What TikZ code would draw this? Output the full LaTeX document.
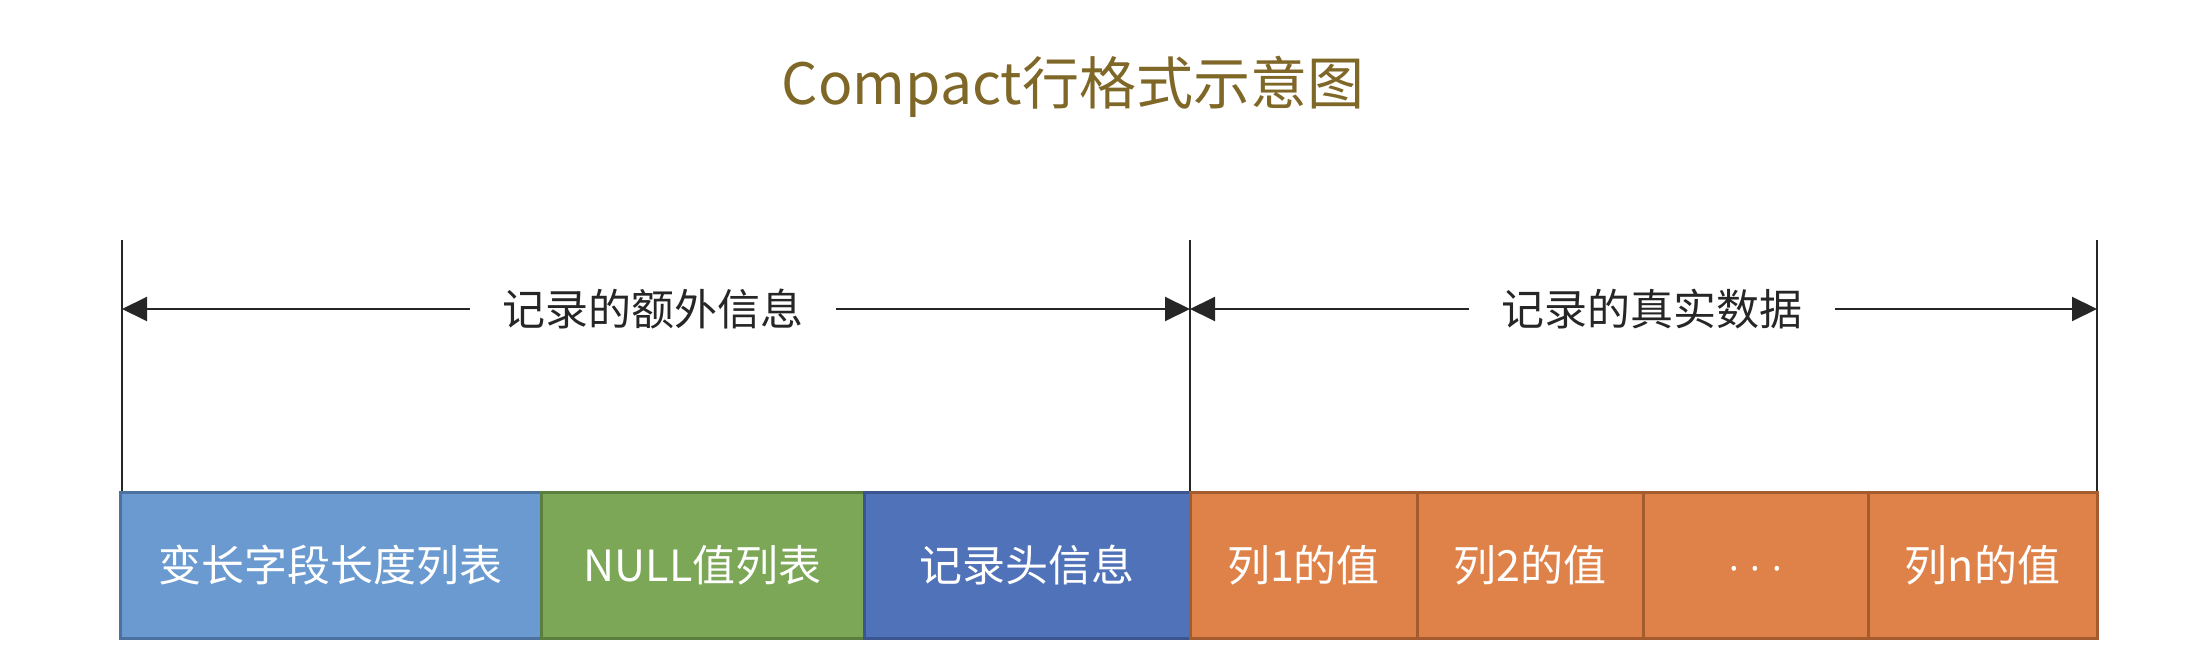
\documentclass[tikz,border=0pt]{standalone}
\usepackage{fontspec}
\setmainfont{Noto Sans CJK SC}
\newfontfamily\latinfont{Noto Sans}
\usetikzlibrary{arrows.meta}
\definecolor{titlec}{HTML}{7F6727}
\definecolor{bluef}{HTML}{6A9ACF}
\definecolor{blued}{HTML}{4B71A0}
\definecolor{greenf}{HTML}{7BA757}
\definecolor{greend}{HTML}{5A7E3D}
\definecolor{dbluef}{HTML}{5072B8}
\definecolor{dblued}{HTML}{3A5590}
\definecolor{orangef}{HTML}{DE8249}
\definecolor{oranged}{HTML}{A45C2E}
\definecolor{linec}{HTML}{262626}
\begin{document}
\begin{tikzpicture}[x=0.5pt,y=-0.5pt,
  cell/.style={draw, line width=1.5pt, minimum height=73pt, inner sep=0pt,
    text=white, font=\fontsize{21.5}{26}\selectfont},
  bluecell/.style={cell, fill=bluef, draw=blued},
  greencell/.style={cell, fill=greenf, draw=greend},
  dbluecell/.style={cell, fill=dbluef, draw=dblued},
  orangecell/.style={cell, fill=orangef, draw=oranged},
  hdr/.style={inner xsep=16pt, inner ysep=0pt, text=linec, font=\fontsize{21.5}{26}\selectfont},
  vline/.style={draw=linec, line width=1pt},
  arr/.style={draw=linec, line width=1pt, -{Triangle[length=12.5pt,width=12pt]}}]
\useasboundingbox (0,0) rectangle (2212,652);

\node[text=titlec, font=\fontsize{28.5}{34}\selectfont] (title) at (1073,87) {Compact行格式示意图};

\node[bluecell, minimum width=210.5pt] (c1) at (330.5,565) {变长字段长度列表};
\node[greencell, minimum width=161.5pt] (c2) at (702.5,565) {NULL值列表};
\node[dbluecell, minimum width=163pt] (c3) at (1027,565) {记录头信息};
\node[orangecell, minimum width=113.5pt] (c4) at (1303.5,565) {列1的值};
\node[orangecell, minimum width=113pt] (c5) at (1530,565) {列2的值};
\node[orangecell, minimum width=112.5pt, font=\latinfont\fontsize{18}{22}\selectfont] (c6) at (1755.5,565) {\raisebox{-8pt}[0pt][0pt]{·\hspace{6pt}·\hspace{6pt}·}};
\node[orangecell, minimum width=114.5pt] (c7) at (1982.5,565) {列n的值};

\coordinate (t1) at (122,240);
\coordinate (t2) at (1190,240);
\coordinate (t3) at (2097,240);
\draw[vline] (t1) -- (t1 |- c1.north);
\draw[vline] (t2) -- (t2 |- c3.north);
\draw[vline] (t3) -- (t3 |- c7.north);

\node[hdr] (l1) at (653,309) {记录的额外信息};
\node[hdr] (l2) at (1652,309) {记录的真实数据};
\draw[arr] (l1.west) -- (l1.west -| t1);
\draw[arr] (l1.east) -- (l1.east -| t2);
\draw[arr] (l2.west) -- (l2.west -| t2);
\draw[arr] (l2.east) -- (l2.east -| t3);
\end{tikzpicture}
\end{document}
